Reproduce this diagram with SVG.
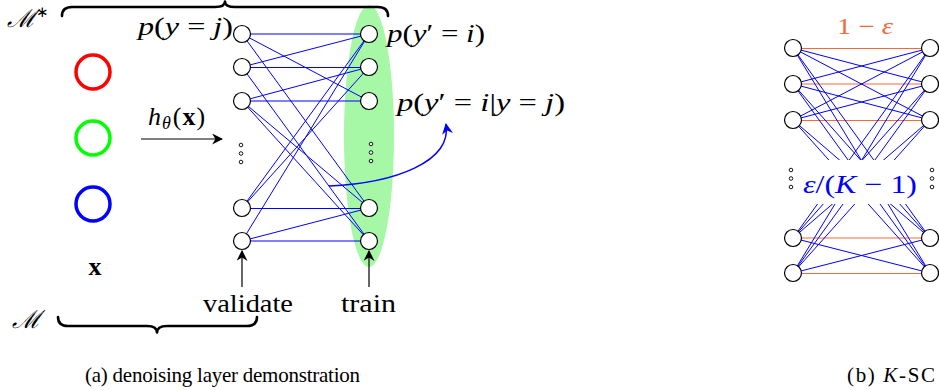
<svg xmlns="http://www.w3.org/2000/svg" width="939" height="390" viewBox="0 0 939 390">
<style>
.n{fill:#fff;stroke:#000;stroke-width:1.2}
.d{fill:#fff;stroke:#000;stroke-width:0.9}
.e{stroke:#0000ff;stroke-width:1;fill:none}
.o{stroke:#f26a3a;stroke-width:1.2;fill:none}
.t{font-family:"Liberation Serif","Times New Roman",serif;fill:#000}
.i{font-style:italic}
.br{fill:none;stroke:#000;stroke-width:2.6;stroke-linecap:round;stroke-linejoin:round}
.ar{stroke:#000;stroke-width:1.2;fill:none}
</style>
<defs>
<marker id="ak" viewBox="0 0 10 10" refX="9" refY="5" markerWidth="11" markerHeight="11" markerUnits="userSpaceOnUse" orient="auto">
<path d="M0,0 L10,5 L0,10 L3,5 z" fill="#000"/>
</marker>
<marker id="ab" viewBox="0 0 10 10" refX="9" refY="5" markerWidth="11" markerHeight="11" markerUnits="userSpaceOnUse" orient="auto">
<path d="M0,0 L10,5 L0,10 L3,5 z" fill="#0000ff"/>
</marker>
</defs>
<rect width="939" height="390" fill="#fff"/>

<!-- left panel -->
<ellipse id="train-set" cx="369" cy="136" rx="25" ry="131" fill="#a6f7a6"/>

<g id="brace-top"><path class="br" d="M62,16 Q62,7 72,7 L215,7 Q225,7 225,1.5 Q225,7 235,7 L378,7 Q388,7 388,16"/></g>
<g id="brace-bottom"><path class="br" d="M58,317 Q58,326 68,326 L147,326 Q157,326 157,332.5 Q157,326 167,326 L247,326 Q257,326 257,317"/></g>

<text class="t i" x="7" y="27" font-size="25">ℳ<tspan font-size="15" dy="-10" font-style="normal">∗</tspan></text>
<text class="t i" x="12" y="328" font-size="25">ℳ</text>

<g id="inputs">
<circle cx="93" cy="72" r="17" fill="none" stroke="#ff0000" stroke-width="3.5"/>
<circle cx="93" cy="138" r="17" fill="none" stroke="#00ff00" stroke-width="3.5"/>
<circle cx="93" cy="204" r="17" fill="none" stroke="#0000ff" stroke-width="3.5"/>
<text class="t" x="95" y="275" font-size="26" font-weight="bold" text-anchor="middle">x</text>
</g>

<g id="connectors">
<line class="ar" x1="141" y1="139" x2="222" y2="139" marker-end="url(#ak)"/>
<line class="ar" x1="242" y1="287" x2="242" y2="251" marker-end="url(#ak)"/>
<line class="ar" x1="369" y1="287" x2="369" y2="251" marker-end="url(#ak)"/>
<g class="e">
<line x1="242" y1="34" x2="369" y2="34"/>
<line x1="242" y1="67.5" x2="369" y2="67.5"/>
<line x1="242" y1="101" x2="369" y2="101"/>
<line x1="242" y1="208.5" x2="369" y2="208.5"/>
<line x1="242" y1="241" x2="369" y2="241"/>
<line x1="242" y1="67" x2="369" y2="34"/>
<line x1="242" y1="101" x2="369" y2="67"/>
<line x1="242" y1="241" x2="369" y2="208"/>
<line x1="242" y1="34" x2="369" y2="101"/>
<line x1="242" y1="34" x2="369" y2="208"/>
<line x1="242" y1="67" x2="369" y2="241"/>
<line x1="242" y1="101" x2="369" y2="208"/>
<line x1="242" y1="101" x2="369" y2="241"/>
<line x1="242" y1="208" x2="369" y2="34"/>
<line x1="242" y1="208" x2="369" y2="67"/>
<line x1="242" y1="241" x2="369" y2="34"/>
</g>
<path d="M329,186 C395,183 452,162 446,124" stroke="#0000ff" stroke-width="1.4" fill="none" marker-end="url(#ab)"/>
</g>

<g id="left-nodes">
<circle class="n" cx="242" cy="34" r="8.5"/>
<circle class="n" cx="242" cy="67" r="8.5"/>
<circle class="n" cx="242" cy="101" r="8.5"/>
<circle class="n" cx="242" cy="208" r="8.5"/>
<circle class="n" cx="242" cy="241" r="8.5"/>
<circle class="d" cx="241" cy="145" r="1.8"/>
<circle class="d" cx="241" cy="153.5" r="1.8"/>
<circle class="d" cx="241" cy="162" r="1.8"/>
</g>
<g id="right-nodes">
<circle class="n" cx="369" cy="34" r="8.5"/>
<circle class="n" cx="369" cy="67" r="8.5"/>
<circle class="n" cx="369" cy="101" r="8.5"/>
<circle class="n" cx="369" cy="208" r="8.5"/>
<circle class="n" cx="369" cy="241" r="8.5"/>
<circle class="d" cx="371" cy="144" r="1.8"/>
<circle class="d" cx="371" cy="152.5" r="1.8"/>
<circle class="d" cx="371" cy="161" r="1.8"/>
</g>

<g id="labels-left">
<text class="t" x="138" y="35" font-size="25" textLength="95" lengthAdjust="spacingAndGlyphs"><tspan class="i">p</tspan>(<tspan class="i">y</tspan> = <tspan class="i">j</tspan>)</text>
<text class="t" x="387" y="42" font-size="25" textLength="98" lengthAdjust="spacingAndGlyphs"><tspan class="i">p</tspan>(<tspan class="i">y</tspan>′ = <tspan class="i">i</tspan>)</text>
<text class="t" x="397" y="111" font-size="25" textLength="168" lengthAdjust="spacingAndGlyphs"><tspan class="i">p</tspan>(<tspan class="i">y</tspan>′ = <tspan class="i">i</tspan>|<tspan class="i">y</tspan> = <tspan class="i">j</tspan>)</text>
<text class="t" x="148" y="125" font-size="26"><tspan class="i">h</tspan><tspan class="i" font-size="18" dy="4" dx="1">θ</tspan><tspan dy="-4" dx="2">(</tspan><tspan font-weight="bold" dx="1">x</tspan><tspan dx="1">)</tspan></text>
<text class="t" x="203" y="312" font-size="26" textLength="90" lengthAdjust="spacingAndGlyphs">validate</text>
<text class="t" x="341" y="312" font-size="26" textLength="55" lengthAdjust="spacingAndGlyphs">train</text>
<text class="t" x="85" y="382" font-size="21" textLength="275">(a) denoising layer demonstration</text>
</g>

<!-- right panel -->
<g id="ksc-connectors">
<g class="o">
<line x1="793" y1="48.5" x2="930" y2="48.5"/>
<line x1="793" y1="84" x2="930" y2="84"/>
<line x1="793" y1="120.5" x2="930" y2="120.5"/>
<line x1="793" y1="238" x2="930" y2="238"/>
<line x1="793" y1="273.5" x2="930" y2="273.5"/>
</g>
<g class="e">
<line x1="793" y1="48" x2="930" y2="84"/>
<line x1="793" y1="48" x2="930" y2="120"/>
<line x1="793" y1="48" x2="930" y2="238"/>
<line x1="793" y1="48" x2="930" y2="273"/>
<line x1="793" y1="84" x2="930" y2="48"/>
<line x1="793" y1="84" x2="930" y2="120"/>
<line x1="793" y1="84" x2="930" y2="238"/>
<line x1="793" y1="84" x2="930" y2="273"/>
<line x1="793" y1="120" x2="930" y2="48"/>
<line x1="793" y1="120" x2="930" y2="84"/>
<line x1="793" y1="120" x2="930" y2="238"/>
<line x1="793" y1="120" x2="930" y2="273"/>
<line x1="793" y1="238" x2="930" y2="48"/>
<line x1="793" y1="238" x2="930" y2="84"/>
<line x1="793" y1="238" x2="930" y2="120"/>
<line x1="793" y1="238" x2="930" y2="273"/>
<line x1="793" y1="273" x2="930" y2="48"/>
<line x1="793" y1="273" x2="930" y2="84"/>
<line x1="793" y1="273" x2="930" y2="120"/>
<line x1="793" y1="273" x2="930" y2="238"/>
</g>
</g>
<g id="ksc-label">
<rect x="801" y="160" width="120" height="44" fill="#fff"/>
<text class="t" x="803" y="193" font-size="26" textLength="114" lengthAdjust="spacingAndGlyphs" style="fill:#0000ff"><tspan class="i">ε</tspan>/(<tspan class="i">K</tspan> − 1)</text>
<text class="t" x="837" y="34" font-size="23" textLength="56" lengthAdjust="spacingAndGlyphs" style="fill:#f26a3a">1 − <tspan class="i">ε</tspan></text>
</g>
<g id="ksc-left">
<circle class="n" cx="793" cy="48" r="8.5"/>
<circle class="n" cx="793" cy="84" r="8.5"/>
<circle class="n" cx="793" cy="120" r="8.5"/>
<circle class="n" cx="793" cy="238" r="8.5"/>
<circle class="n" cx="793" cy="273" r="8.5"/>
<circle class="d" cx="791" cy="170" r="1.8"/>
<circle class="d" cx="791" cy="178.5" r="1.8"/>
<circle class="d" cx="791" cy="187" r="1.8"/>
</g>
<g id="ksc-right">
<circle class="n" cx="930" cy="48" r="8.5"/>
<circle class="n" cx="930" cy="84" r="8.5"/>
<circle class="n" cx="930" cy="120" r="8.5"/>
<circle class="n" cx="930" cy="238" r="8.5"/>
<circle class="n" cx="930" cy="273" r="8.5"/>
<circle class="d" cx="932" cy="170" r="1.8"/>
<circle class="d" cx="932" cy="178.5" r="1.8"/>
<circle class="d" cx="932" cy="187" r="1.8"/>
</g>
<text class="t" x="847" y="382" font-size="21" textLength="88">(b) <tspan class="i">K</tspan>-SC</text>
</svg>
